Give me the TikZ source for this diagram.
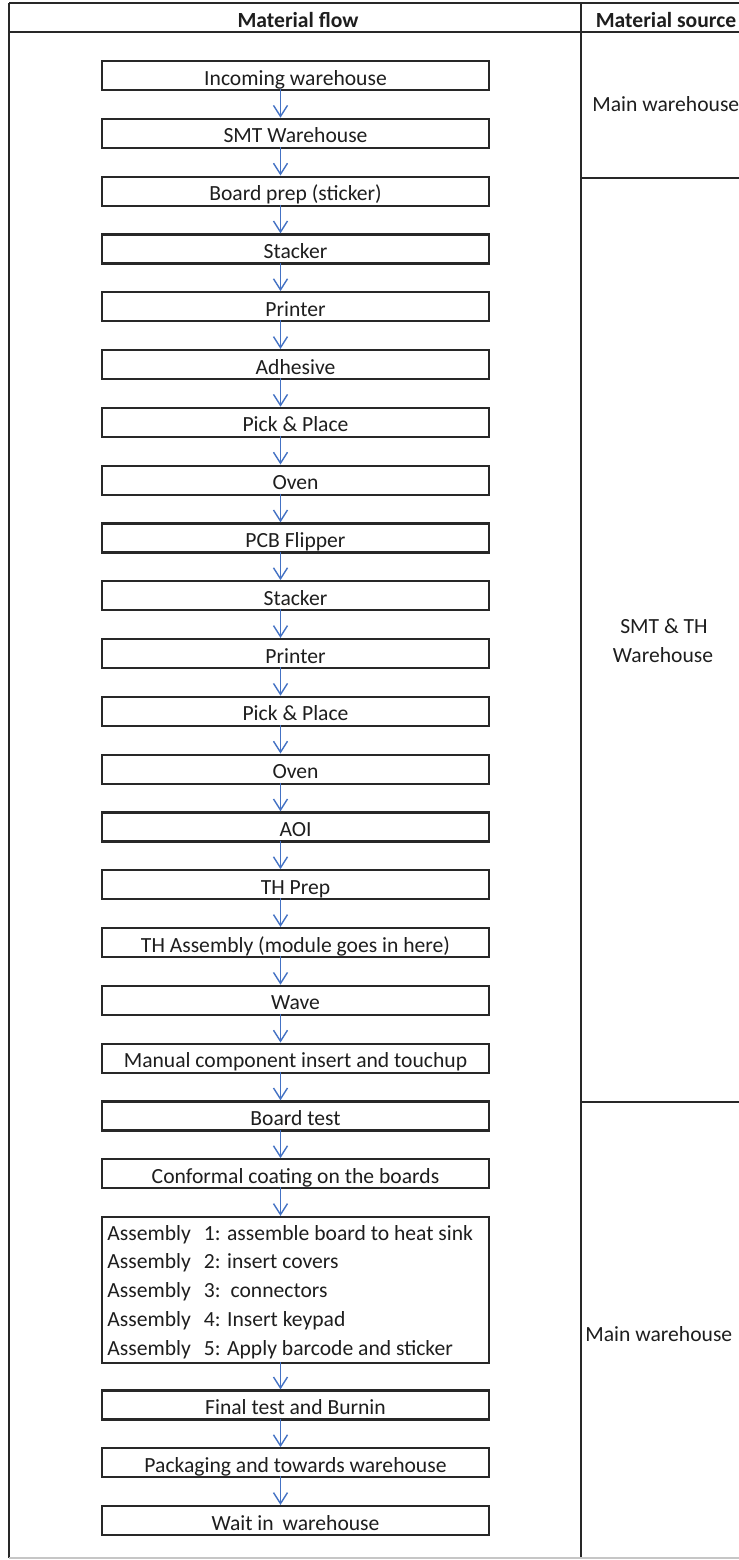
\documentclass[tikz,border=0pt]{standalone}
\usepackage{fontspec}
\setmainfont{Carlito}
\usetikzlibrary{arrows.meta}
\definecolor{flowblue}{RGB}{68,114,196}
\definecolor{rulecol}{RGB}{40,40,40}
\definecolor{inkcol}{RGB}{30,30,30}

\begin{document}
\begin{tikzpicture}[x=0.5pt,y=-0.5pt,
  every node/.style={font=\fontsize{10.8}{13}\selectfont, text=inkcol},
  stepbox/.style={draw=rulecol, line width=1.1pt, rectangle,
    minimum width=193.5pt, minimum height=14.5pt, inner sep=0pt,
    text height=9.5pt, text depth=0pt},
  bigbox/.style={draw=rulecol, line width=1.1pt, rectangle,
    minimum width=193.5pt, minimum height=73pt, inner sep=0pt},
  flow/.style={draw=flowblue, line width=0.7pt,
    -{Straight Barb[length=5.5pt,width=7pt]}},
  gridline/.style={draw=rulecol, line width=0.9pt},
  lbl/.style={inner sep=0pt},
  head/.style={inner sep=0pt, font=\fontsize{10.8}{13}\selectfont\bfseries}
]
\useasboundingbox (0,0) rectangle (739,1560);
\fill[white] (0,0) rectangle (739,1560);

% table frame
\draw[gridline] (9,3) -- (739,3);
\draw[gridline] (9,32) -- (739,32);
\draw[gridline] (9,3) -- (9,1558);
\draw[gridline] (581,3) -- (581,1558);
\draw[gridline] (581,178) -- (739,178);
\draw[gridline] (581,1102) -- (739,1102);
\draw[gridline, draw=gray!45] (9,1558) -- (739,1558);

% column headings
\node[head, anchor=base] (hflow) at (298,27) {Material flow};
\node[head, anchor=base] (hsrc) at (666,27) {Material source};

% process steps
\node[stepbox] (b0)  at (295.5,75.5)   {Incoming warehouse};
\node[stepbox] (b1)  at (295.5,133.3)  {SMT Warehouse};
\node[stepbox] (b2)  at (295.5,191.1)  {Board prep (sticker)};
\node[stepbox] (b3)  at (295.5,248.9)  {Stacker};
\node[stepbox] (b4)  at (295.5,306.7)  {Printer};
\node[stepbox] (b5)  at (295.5,364.5)  {Adhesive};
\node[stepbox] (b6)  at (295.5,422.3)  {Pick \& Place};
\node[stepbox] (b7)  at (295.5,480.1)  {Oven};
\node[stepbox] (b8)  at (295.5,537.9)  {PCB Flipper};
\node[stepbox] (b9)  at (295.5,595.7)  {Stacker};
\node[stepbox] (b10) at (295.5,653.5)  {Printer};
\node[stepbox] (b11) at (295.5,711.3)  {Pick \& Place};
\node[stepbox] (b12) at (295.5,769.1)  {Oven};
\node[stepbox] (b13) at (295.5,826.9)  {AOI};
\node[stepbox] (b14) at (295.5,884.7)  {TH Prep};
\node[stepbox] (b15) at (295.5,942.5)  {TH Assembly (module goes in here)};
\node[stepbox] (b16) at (295.5,1000.3) {Wave};
\node[stepbox] (b17) at (295.5,1058.1) {Manual component insert and touchup};
\node[stepbox] (b18) at (295.5,1115.9) {Board test};
\node[stepbox] (b19) at (295.5,1173.7) {Conformal coating on the boards};

% assembly stage with its five operations
\node[bigbox] (asm) at (295.5,1290) {};
\node[lbl, anchor=base west] (asm1) at (107,1240) {Assembly\hspace{6.5pt}1: assemble board to heat sink};
\node[lbl, anchor=base west] (asm2) at (107,1268) {Assembly\hspace{6.5pt}2: insert covers};
\node[lbl, anchor=base west] (asm3) at (107,1297) {Assembly\hspace{6.5pt}3:\hspace{5pt}connectors};
\node[lbl, anchor=base west] (asm4) at (107,1326) {Assembly\hspace{6.5pt}4: Insert keypad};
\node[lbl, anchor=base west] (asm5) at (107,1355) {Assembly\hspace{6.5pt}5: Apply barcode and sticker};

\node[stepbox] (b23) at (295.5,1404.9) {Final test and Burnin};
\node[stepbox] (b24) at (295.5,1462.7) {Packaging and towards warehouse};
\node[stepbox] (b25) at (295.5,1520.5) {Wait in\hspace{2pt} warehouse};

% flow arrows
\foreach \a/\b in {b0/b1,b1/b2,b2/b3,b3/b4,b4/b5,b5/b6,b6/b7,b7/b8,b8/b9,
                   b9/b10,b10/b11,b11/b12,b12/b13,b13/b14,b14/b15,b15/b16,
                   b16/b17,b17/b18,b18/b19,b19/asm,asm/b23,b23/b24,b24/b25}
  \draw[flow] ([xshift=-7.5pt,yshift=1pt]\a.south) -- ([xshift=-7.5pt]\b.north);

% material sources
\node[lbl, anchor=base west] (src1) at (592,111) {Main warehouse};
\node[lbl, anchor=base] (src2a) at (664,633) {SMT \& TH};
\node[lbl, anchor=base] (src2b) at (663,662) {Warehouse};
\node[lbl, anchor=base west] (src3) at (585,1341) {Main warehouse};
\end{tikzpicture}
\end{document}
